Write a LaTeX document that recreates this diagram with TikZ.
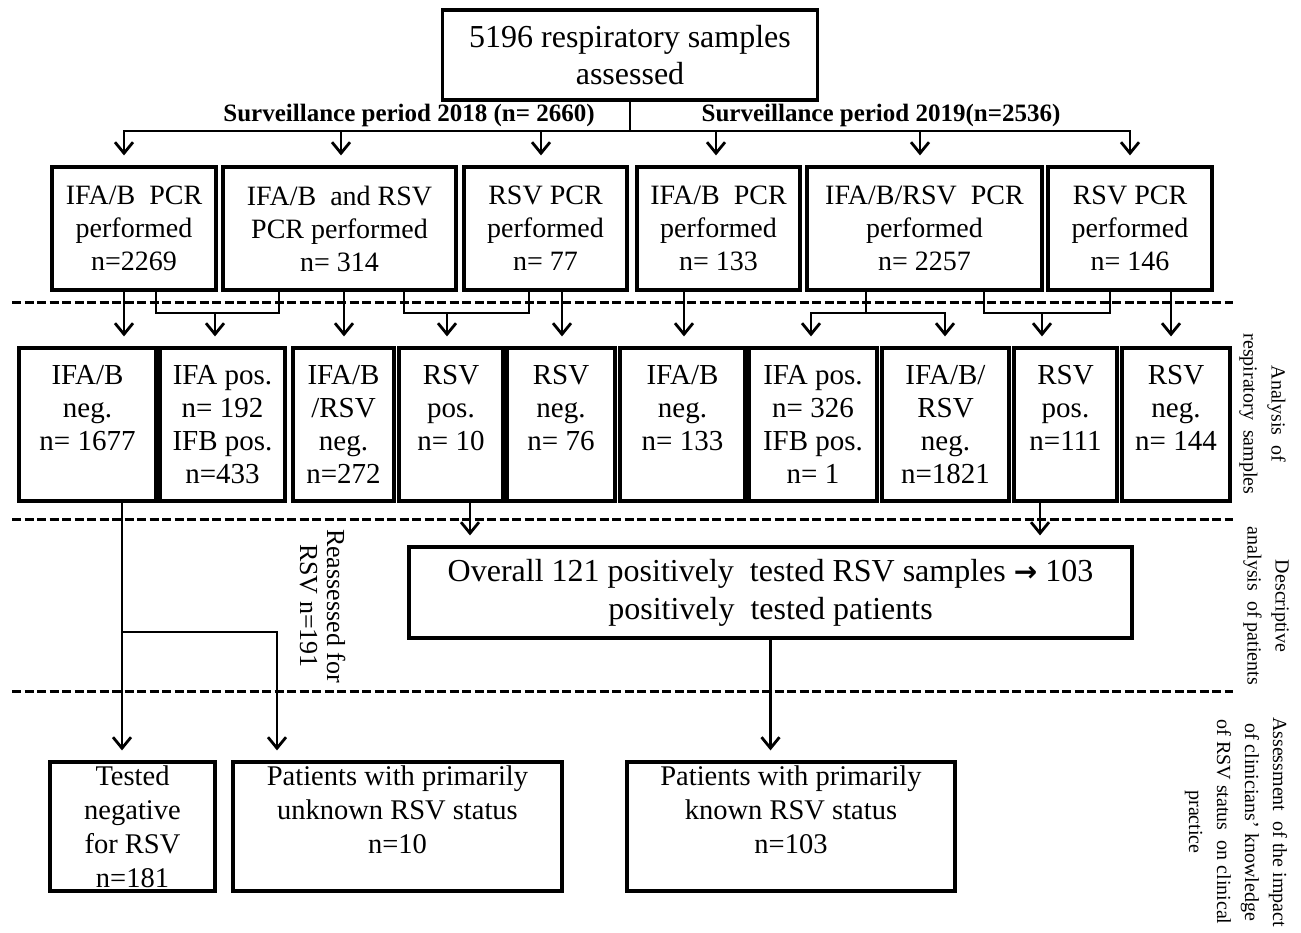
\documentclass[tikz,border=0pt]{standalone}
\usepackage{fontspec}
\setmainfont{Liberation Serif}
\newfontfamily\djv{DejaVu Sans}
\usetikzlibrary{arrows.meta}
\begin{document}
\begin{tikzpicture}[x=1pt,y=-1pt,
  box/.style={draw,line width=3.2pt,align=center,inner sep=0pt,font=\fontsize{28}{33}\selectfont},
  rowthree/.style={box,font=\fontsize{29}{33}\selectfont},
  bottombox/.style={box,font=\fontsize{28.5}{34}\selectfont},
  conn/.style={line width=2.8pt},
  arr/.style={conn,-{Straight Barb[length=11pt,width=18pt]},shorten >=10pt},
  sep/.style={line width=3pt,dash pattern=on 9pt off 3.5pt},
  side/.style={rotate=-90,align=center,font=\fontsize{20}{28}\selectfont},
  lab/.style={font=\bfseries\fontsize{25}{30}\selectfont}]
\useasboundingbox (0,0) rectangle (1301,933);
\fill[white] (0,0) rectangle (1301,933);

% top
\node[box,font=\fontsize{32}{37}\selectfont,minimum width=375,minimum height=90] (top) at (630,55) {5196 respiratory samples\\assessed};
\node[lab] (l18) at (409,115) {Surveillance period 2018 (n= 2660)};
\node[lab] (l19) at (881,115) {Surveillance period 2019(n=2536)};

% row 2
\node[box,minimum width=164,minimum height=123] (b1) at (134,228.5) {IFA/B\ \ PCR\\performed\\n=2269};
\node[box,minimum width=233,minimum height=123] (b2) at (339.5,228.5) {IFA/B\ \ and RSV\\PCR performed\\n= 314};
\node[box,minimum width=163,minimum height=123] (b3) at (545.5,228.5) {RSV PCR\\performed\\n= 77};
\node[box,minimum width=163,minimum height=123] (b4) at (718.5,228.5) {IFA/B\ \ PCR\\performed\\n= 133};
\node[box,minimum width=235,minimum height=123] (b5) at (924.5,228.5) {IFA/B/RSV\ \ PCR\\performed\\n= 2257};
\node[box,minimum width=164,minimum height=123] (b6) at (1130,228.5) {RSV PCR\\performed\\n= 146};

% row 3
\node[rowthree,minimum width=137,minimum height=153] (c1) at (87.5,424.5) {IFA/B\\neg.\\n= 1677\\\mbox{}};
\node[rowthree,minimum width=125,minimum height=153] (c2) at (222.5,424.5) {IFA pos.\\n= 192\\IFB pos.\\n=433};
\node[rowthree,minimum width=101,minimum height=153] (c3) at (343.5,424.5) {IFA/B\\/RSV\\neg.\\n=272};
\node[rowthree,minimum width=104,minimum height=153] (c4) at (451,424.5) {RSV\\pos.\\n= 10\\\mbox{}};
\node[rowthree,minimum width=108,minimum height=153] (c5) at (561,424.5) {RSV\\neg.\\n= 76\\\mbox{}};
\node[rowthree,minimum width=125,minimum height=153] (c6) at (682.5,424.5) {IFA/B\\neg.\\n= 133\\\mbox{}};
\node[rowthree,minimum width=128,minimum height=153] (c7) at (813,424.5) {IFA pos.\\n= 326\\IFB pos.\\n= 1};
\node[rowthree,minimum width=127,minimum height=153] (c8) at (945.5,424.5) {IFA/B/\\RSV\\neg.\\n=1821};
\node[rowthree,minimum width=103,minimum height=153] (c9) at (1065.5,424.5) {RSV\\pos.\\n=111\\\mbox{}};
\node[rowthree,minimum width=108,minimum height=153] (c10) at (1176,424.5) {RSV\\neg.\\n= 144\\\mbox{}};

% overall
\node[box,font=\fontsize{32}{38}\selectfont,minimum width=723,minimum height=91] (ov) at (770.5,592.5) {Overall 121 positively\ \ tested RSV samples {\djv\bfseries\fontsize{28}{38}\selectfont →} 103\\positively\ \ tested patients};

% bottom
\node[bottombox,minimum width=165,minimum height=129] (d1) at (132.5,826.5) {Tested\\negative\\for RSV\\n=181};
\node[bottombox,minimum width=329,minimum height=129] (d2) at (397.5,826.5) {Patients with primarily\\unknown RSV status\\n=10\\\mbox{}};
\node[bottombox,minimum width=328,minimum height=129] (d3) at (791,826.5) {Patients with primarily\\known RSV status\\n=103\\\mbox{}};

% separators
\draw[sep] (12,303) -- (1233,303);
\draw[sep] (12,519) -- (1233,519);
\draw[sep] (12,691) -- (1233,691);

% side labels
\node[side] (s1) at (1262.5,414) {Analysis\ \ of\\respiratory\ \ samples};
\node[side] (s2) at (1266,606) {Descriptive\\analysis\ \ of patients};
\node[side] (s3) at (1236,822) {Assessment\ \ of the impact\\of clinicians' knowledge\\of RSV status\ \ on clinical\\practice};
\node[rotate=-90,align=center,font=\fontsize{26}{27}\selectfont] (re) at (322.5,606) {Reassessed for\\RSV n=191};

% top connectors
\draw[conn] (top.south) -- (top.south |- 0,131) coordinate (hub);
\draw[arr] (hub) -| (124,0 |- b1.north);
\draw[arr] (hub) -| (1130,0 |- b6.north);
\draw[arr] (341,131) -- (341,0 |- b2.north);
\draw[arr] (541,131) -- (541,0 |- b3.north);
\draw[arr] (716,131) -- (716,0 |- b4.north);
\draw[arr] (920,131) -- (920,0 |- b5.north);

% row 2 -> row 3
\draw[arr] (124,0 |- b1.south) -- (124,0 |- c1.north);
\draw[conn] (156,0 |- b1.south) -- (156,313) -- (279,313) -- (279,0 |- b2.south);
\draw[arr] (215,313) -- (215,0 |- c2.north);
\draw[arr] (344,0 |- b2.south) -- (344,0 |- c3.north);
\draw[conn] (404,0 |- b2.south) -- (404,313) -- (529,313) -- (529,0 |- b3.south);
\draw[arr] (447,313) -- (447,0 |- c4.north);
\draw[arr] (562,0 |- b3.south) -- (562,0 |- c5.north);
\draw[arr] (684,0 |- b4.south) -- (684,0 |- c6.north);
\draw[conn] (866,0 |- b5.south) -- (866,313);
\draw[arr] (866,313) -| (811,0 |- c7.north);
\draw[arr] (866,313) -| (945,0 |- c8.north);
\draw[conn] (984,0 |- b5.south) -- (984,313) -- (1110,313) -- (1110,0 |- b6.south);
\draw[arr] (1042,313) -- (1042,0 |- c9.north);
\draw[arr] (1171,0 |- b6.south) -- (1171,0 |- c10.north);

% row 3 -> lower
\draw[arr] (470,0 |- c4.south) -- (470,0 |- ov.north);
\draw[arr] (1040,0 |- c9.south) -- (1040,0 |- ov.north);
\draw[arr] (122,0 |- c1.south) -- (122,0 |- d1.north);
\draw[arr] (122,632) -| (277,0 |- d2.north);
\draw[arr] (ov.south) -- (770.5,0 |- d3.north);
\end{tikzpicture}
\end{document}
